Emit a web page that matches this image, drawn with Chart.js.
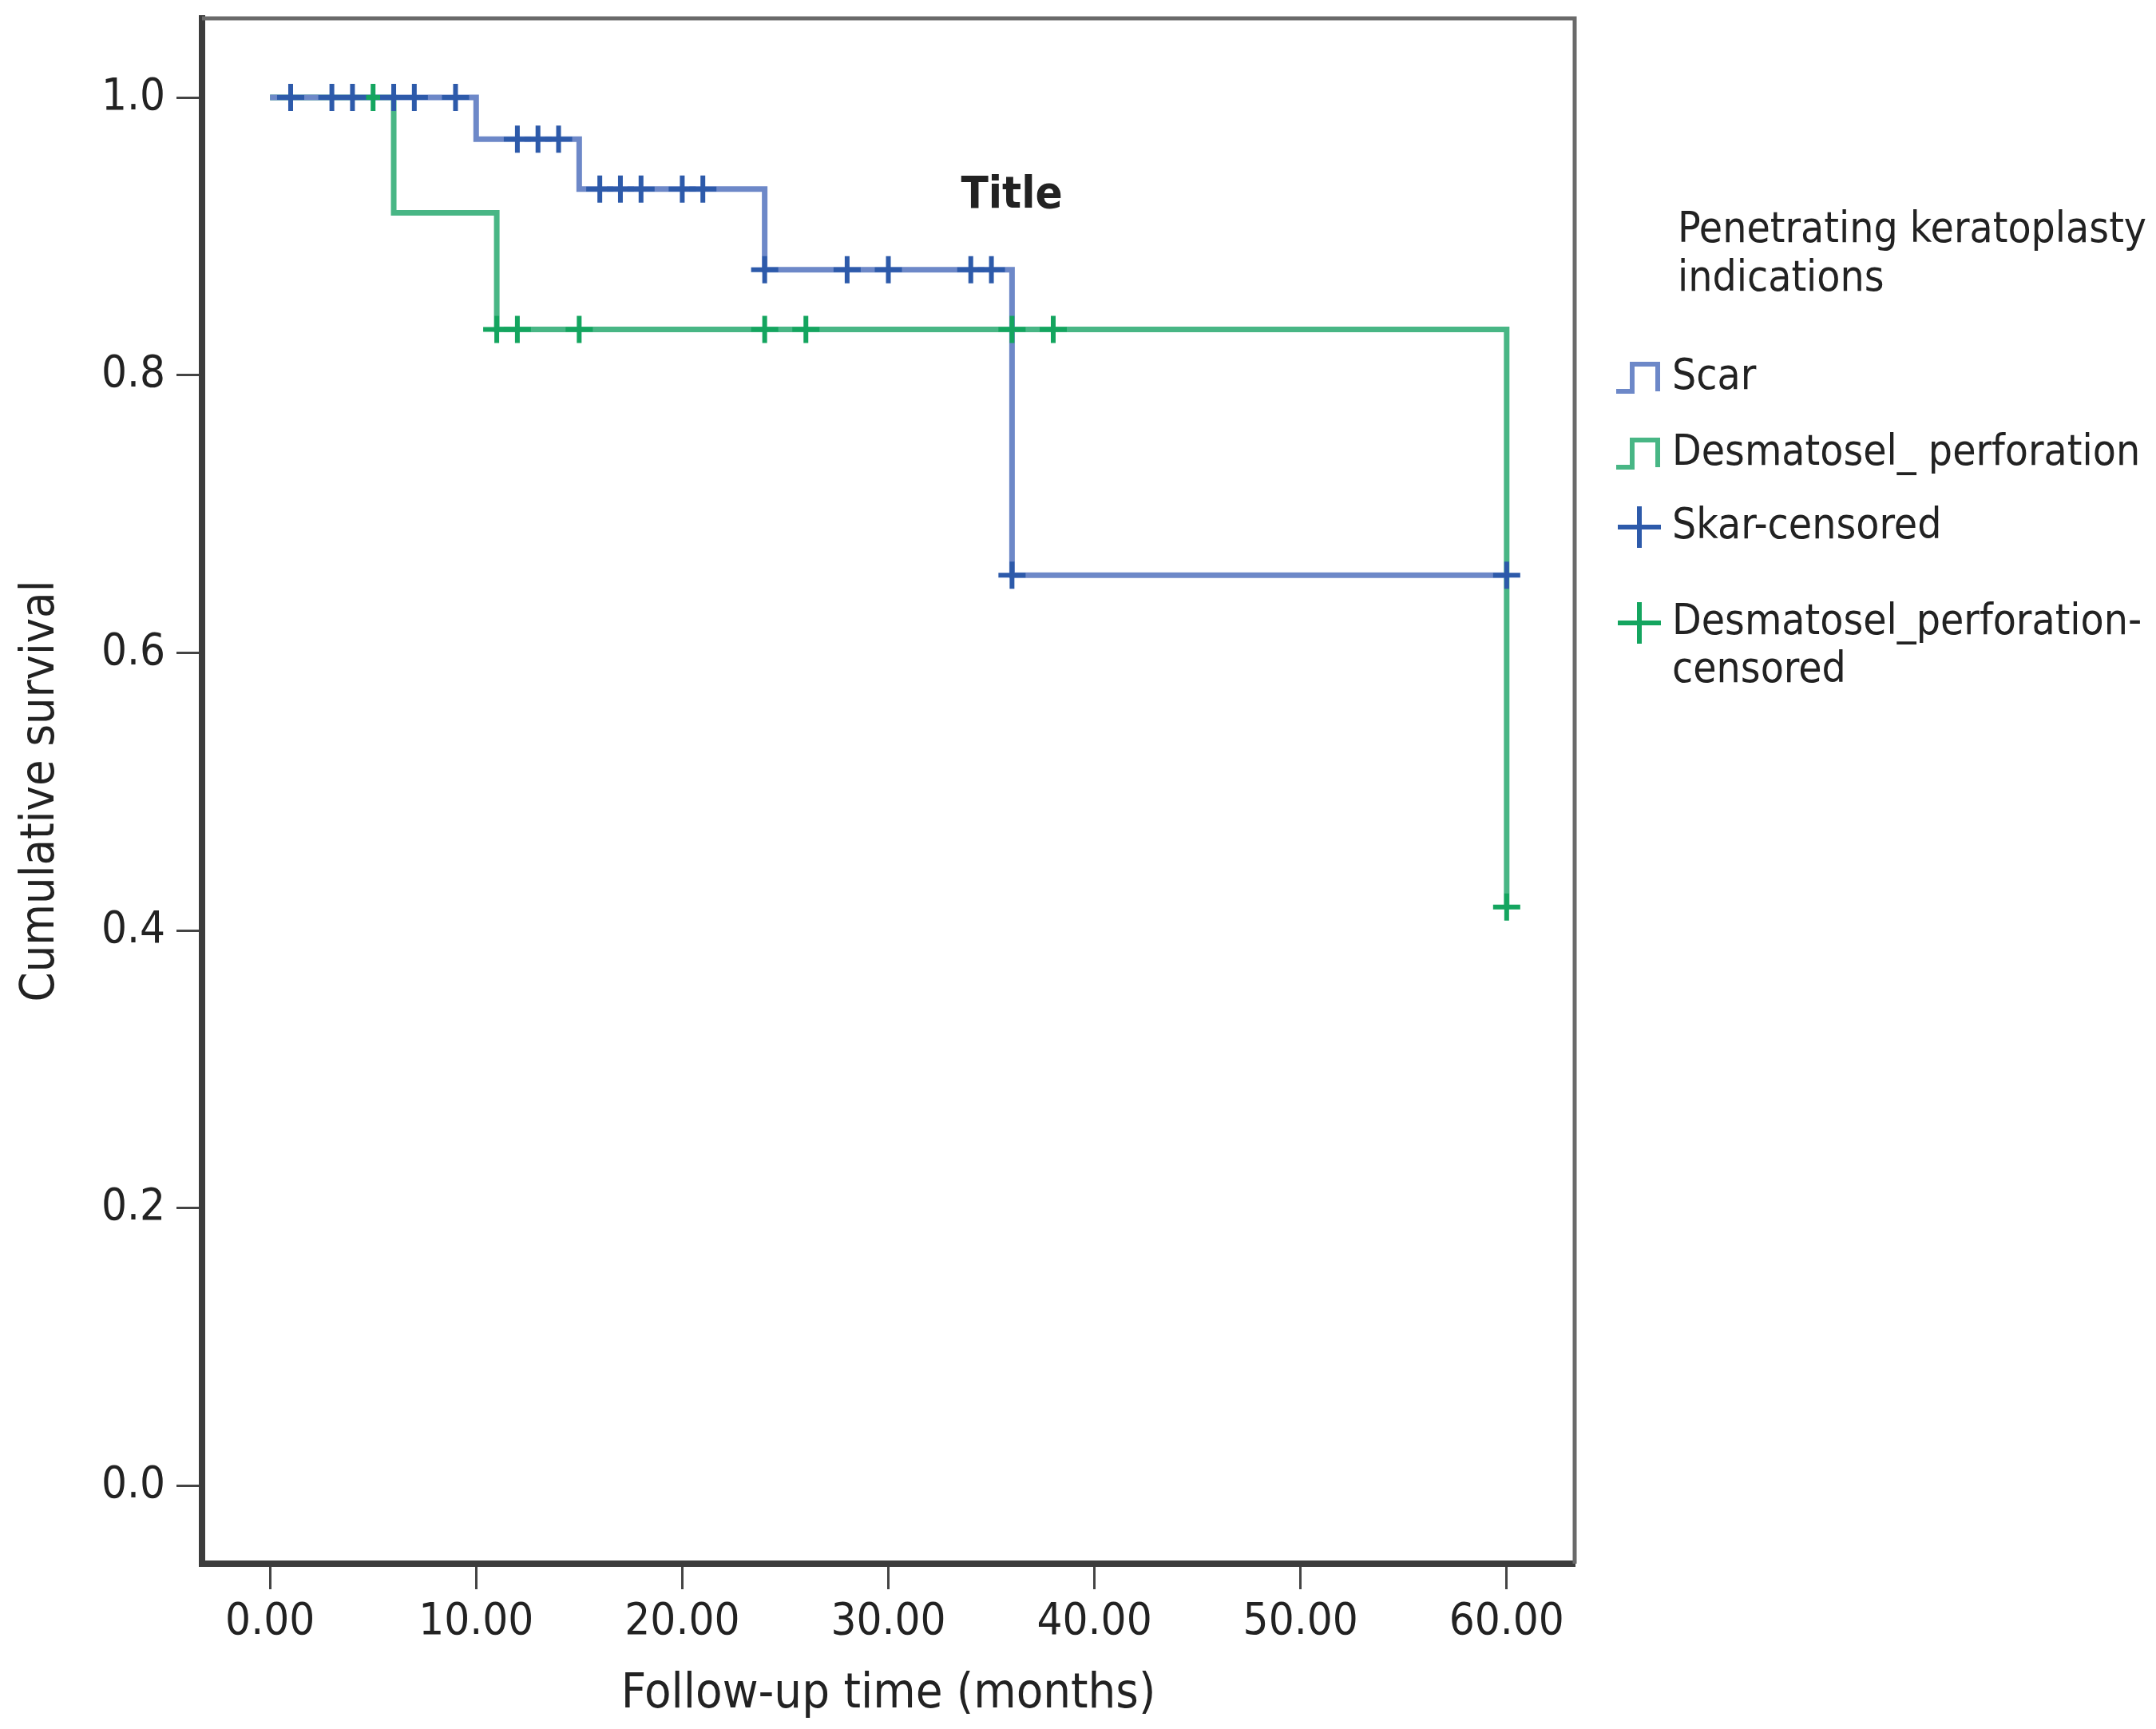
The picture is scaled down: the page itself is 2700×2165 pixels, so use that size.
<!DOCTYPE html>
<html>
<head>
<meta charset="utf-8">
<script src="https://cdn.jsdelivr.net/npm/chart.js@4.4.1/dist/chart.umd.min.js"></script>
<style>
  html, body { margin: 0; padding: 0; background: #fff; }
  #km { display: block; }
</style>
</head>
<body>
<canvas id="km" width="2700" height="2165"></canvas>
<script>
// Kaplan-Meier curves
const scarTimes = [0, 10, 15, 24, 36, 60];
const scarSurv = [1.0, 0.970, 0.934, 0.876, 0.656, 0.656];
const desTimes = [0, 6, 11, 60];
const desSurv = [1.0, 0.917, 0.833, 0.417];

// censored observations
const scarCensTimes = [1, 3, 4, 6, 7, 9, 12, 13, 14, 16, 17, 18, 20, 21, 24, 28, 30, 34, 35, 36, 60];
const scarCensSurv = [1, 1, 1, 1, 1, 1, 0.970, 0.970, 0.970, 0.934, 0.934, 0.934, 0.934, 0.934,
  0.876, 0.876, 0.876, 0.876, 0.876, 0.656, 0.656];
const desCensTimes = [5, 11, 12, 15, 24, 26, 36, 38, 60];
const desCensSurv = [1, 0.833, 0.833, 0.833, 0.833, 0.833, 0.833, 0.833, 0.417];

const xTicks = [0, 10, 20, 30, 40, 50, 60];
const yTicks = [0, 0.2, 0.4, 0.6, 0.8, 1.0];

const legendTitle = ['Penetrating keratoplasty', 'indications'];
const legendLabels = [['Scar'], ['Desmatosel_ perforation'], ['Skar-censored'], ['Desmatosel_perforation-', 'censored']];

const BLUE_LINE = '#6d88c8';
const BLUE_MARK = '#2d5aaa';
const GREEN_LINE = '#48b685';
const GREEN_MARK = '#14a55f';
const FONT = "'Liberation Sans Narrow', 'Arial Narrow', 'DejaVu Sans Condensed', sans-serif";
const TEXT = '#222222';

function pts(xs, ys) {
  return xs.map((x, i) => ({ x: x, y: ys[i] }));
}

// top/right frame, title and legend
const extrasPlugin = {
  id: 'extras',
  afterDraw(chart) {
    const ctx = chart.ctx;
    const a = chart.chartArea;
    ctx.save();
    ctx.strokeStyle = '#6a6a6a';
    ctx.lineWidth = 5;
    ctx.beginPath();
    ctx.moveTo(a.left, a.top);
    ctx.lineTo(a.right, a.top);
    ctx.lineTo(a.right, a.bottom);
    ctx.stroke();

    ctx.fillStyle = TEXT;
    ctx.textBaseline = 'middle';
    ctx.textAlign = 'center';
    ctx.font = 'bold 56px ' + FONT;
    ctx.fillText('Title', 1267, 245);

    ctx.textAlign = 'left';
    ctx.font = '53px ' + FONT;
    ctx.fillText(legendTitle[0], 2101, 289);
    ctx.fillText(legendTitle[1], 2101, 350);

    const rows = [473, 568, 660, 780];
    const colors = [BLUE_LINE, GREEN_LINE, BLUE_MARK, GREEN_MARK];
    legendLabels.forEach((lines, i) => {
      const y = rows[i];
      lines.forEach((t, j) => ctx.fillText(t, 2094, y + j * 60));
      ctx.strokeStyle = colors[i];
      ctx.lineWidth = 6;
      ctx.beginPath();
      if (i < 2) {
        const x0 = 2024, yb = y + 17, yt = y - 17;
        ctx.moveTo(x0, yb);
        ctx.lineTo(x0 + 20, yb);
        ctx.lineTo(x0 + 20, yt);
        ctx.lineTo(x0 + 52, yt);
        ctx.lineTo(x0 + 52, yb);
      } else {
        ctx.moveTo(2026, y);
        ctx.lineTo(2080, y);
        ctx.moveTo(2053, y - 26);
        ctx.lineTo(2053, y + 26);
      }
      ctx.stroke();
    });
    ctx.restore();
  }
};

new Chart(document.getElementById('km'), {
  type: 'scatter',
  data: {
    datasets: [
      {
        label: 'Skar-censored',
        data: pts(scarCensTimes, scarCensSurv),
        showLine: false,
        pointStyle: 'cross',
        pointRadius: 17,
        pointBorderWidth: 6,
        borderColor: BLUE_MARK,
        backgroundColor: BLUE_MARK
      },
      {
        label: 'Desmatosel_perforation-censored',
        data: pts(desCensTimes, desCensSurv),
        showLine: false,
        pointStyle: 'cross',
        pointRadius: 17,
        pointBorderWidth: 6,
        borderColor: GREEN_MARK,
        backgroundColor: GREEN_MARK
      },
      {
        label: 'Scar',
        data: pts(scarTimes, scarSurv),
        showLine: true,
        stepped: 'before',
        pointRadius: 0,
        borderWidth: 7,
        borderColor: BLUE_LINE,
        fill: false
      },
      {
        label: 'Desmatosel_ perforation',
        data: pts(desTimes, desSurv),
        showLine: true,
        stepped: 'before',
        pointRadius: 0,
        borderWidth: 7,
        borderColor: GREEN_LINE,
        fill: false
      }
    ]
  },
  options: {
    responsive: false,
    animation: false,
    devicePixelRatio: 1,
    layout: { padding: { left: 0, top: 21, right: 728, bottom: 0 } },
    plugins: {
      legend: { display: false },
      tooltip: { enabled: false }
    },
    scales: {
      x: {
        type: 'linear',
        min: -3.3,
        max: 63.3,
        afterFit: (scale) => {
          scale.height = 207;
          scale.paddingLeft = 0;
          scale.paddingRight = 0;
        },
        afterBuildTicks: (scale) => { scale.ticks = xTicks.map(v => ({ value: v })); },
        border: { color: '#3c3c3c', width: 8 },
        grid: { drawOnChartArea: false, tickLength: 32, tickWidth: 3, tickColor: '#444' },
        ticks: {
          padding: 8,
          color: TEXT,
          font: { family: FONT, size: 56 },
          callback: (v) => v.toFixed(2)
        },
        title: {
          display: true,
          text: 'Follow-up time (months)',
          color: TEXT,
          font: { family: FONT, size: 61, lineHeight: 1.2 },
          padding: { top: 0, bottom: 6 }
        }
      },
      y: {
        type: 'linear',
        min: -0.056,
        max: 1.057,
        afterFit: (scale) => {
          scale.width = 253;
          scale.paddingTop = 0;
          scale.paddingBottom = 0;
        },
        afterBuildTicks: (scale) => { scale.ticks = yTicks.map(v => ({ value: v })); },
        border: { color: '#3c3c3c', width: 8 },
        grid: { drawOnChartArea: false, tickLength: 32, tickWidth: 3, tickColor: '#444' },
        ticks: {
          padding: 14,
          color: TEXT,
          font: { family: FONT, size: 56 },
          callback: (v) => v.toFixed(1)
        },
        title: {
          display: true,
          text: 'Cumulative survival',
          color: TEXT,
          font: { family: FONT, size: 59, lineHeight: 1.2 },
          padding: { top: 16, bottom: 0 }
        }
      }
    }
  },
  plugins: [extrasPlugin]
});
</script>
</body>
</html>
